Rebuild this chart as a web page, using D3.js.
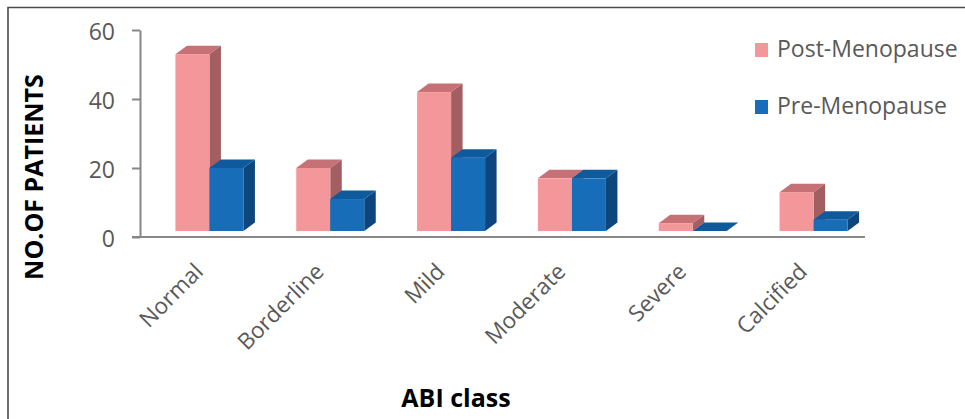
<!DOCTYPE html>
<html>
<head>
<meta charset="utf-8">
<script src="https://cdn.jsdelivr.net/npm/d3@7"></script>
<style>
  html, body { margin: 0; padding: 0; background: #fff; }
  svg { display: block; font-family: "Open Sans", sans-serif; }
</style>
</head>
<body>
<svg id="chart" width="965" height="419"></svg>
<script>
// ABI class distribution by menopausal status
const categories = ["Normal", "Borderline", "Mild", "Moderate", "Severe", "Calcified"];
const postMenopause = [53, 20, 42, 17, 4, 13];
const preMenopause = [20, 11, 23, 17, 0, 5];
const seriesNames = ["Post-Menopause", "Pre-Menopause"];
const yTicks = [0, 20, 40, 60];

const palette = [
  { front: "#F4979A", top: "#C57175", side: "#A25E60" },
  { front: "#176DB7", top: "#0F5A9C", side: "#0C467C" }
];

const svg = d3.select("#chart");

// frame (top and left rules)
svg.append("path")
  .attr("d", "M8,419 L8,7.5 L965,7.5")
  .attr("fill", "none")
  .attr("stroke", "#4a4a4a")
  .attr("stroke-width", 1.6);

const y = d3.scaleLinear().domain([0, 60]).range([237, 30]);
const x = d3.scaleBand().domain(categories).range([149, 874]);
const xAxisEnd = 865;
const barW = 34;
const depthX = 11.5, depthY = 8.5, floorLift = 6;

// y axis
const yAxis = svg.append("g")
  .attr("transform", "translate(140,0)")
  .call(d3.axisLeft(y).tickValues(yTicks).tickSize(8).tickPadding(17).tickSizeOuter(0));
yAxis.select(".domain").attr("stroke", "#878787").attr("stroke-width", 2);
yAxis.selectAll(".tick line").attr("stroke", "#878787").attr("stroke-width", 2);
yAxis.selectAll(".tick text")
  .attr("fill", "#595959")
  .attr("font-size", 23)
  .attr("font-family", "Open Sans, sans-serif")
  .attr("dy", "0.42em");

// category axis baseline
svg.append("line")
  .attr("x1", 132).attr("x2", xAxisEnd)
  .attr("y1", y(0)).attr("y2", y(0))
  .attr("stroke", "#878787").attr("stroke-width", 2.2);

// 3D columns
const rows = categories.map((c, i) => ({ cat: c, vals: [postMenopause[i], preMenopause[i]] }));
const bars = svg.append("g");
rows.forEach(r => {
  const cx = x(r.cat) + x.bandwidth() / 2;
  r.vals.forEach((v, s) => {
    const x0 = cx - barW + s * barW;
    const x1 = x0 + barW;
    const yb = y(0) - floorLift;
    const yt = Math.min(y(v), yb);
    const g = bars.append("g");
    // side face
    g.append("path")
      .attr("d", `M${x1},${yt} L${x1 + depthX},${yt - depthY} L${x1 + depthX},${yb - depthY} L${x1},${yb} Z`)
      .attr("fill", palette[s].side);
    // top face
    g.append("path")
      .attr("d", `M${x0},${yt} L${x0 + depthX},${yt - depthY} L${x1 + depthX},${yt - depthY} L${x1},${yt} Z`)
      .attr("fill", palette[s].top);
    // front face
    g.append("rect")
      .attr("x", x0).attr("y", yt)
      .attr("width", barW).attr("height", yb - yt)
      .attr("fill", palette[s].front);
  });
});

// category labels
svg.append("g").selectAll("text")
  .data(categories)
  .join("text")
  .attr("transform", d => `translate(${x(d) + x.bandwidth() / 2 - 5},273) rotate(-45)`)
  .attr("text-anchor", "end")
  .attr("fill", "#595959")
  .attr("font-size", 22.5)
  .text(d => d);

// axis titles
svg.append("text")
  .attr("x", 456).attr("y", 407)
  .attr("text-anchor", "middle")
  .attr("font-weight", "bold")
  .attr("font-size", 25)
  .attr("fill", "#000")
  .text("ABI class");

svg.append("text")
  .attr("transform", "translate(43,177) rotate(-90)")
  .attr("text-anchor", "middle")
  .attr("font-weight", "bold")
  .attr("font-size", 25)
  .attr("fill", "#000")
  .text("NO.OF PATIENTS");

// legend
const legend = svg.append("g").selectAll("g")
  .data(seriesNames)
  .join("g")
  .attr("transform", (d, i) => `translate(755,${43 + i * 57})`);
legend.append("rect")
  .attr("width", 13).attr("height", 14)
  .attr("fill", (d, i) => palette[i].front);
legend.append("text")
  .attr("x", 22).attr("y", 14)
  .attr("fill", "#595959")
  .attr("font-size", 23)
  .text(d => d);
</script>
</body>
</html>
